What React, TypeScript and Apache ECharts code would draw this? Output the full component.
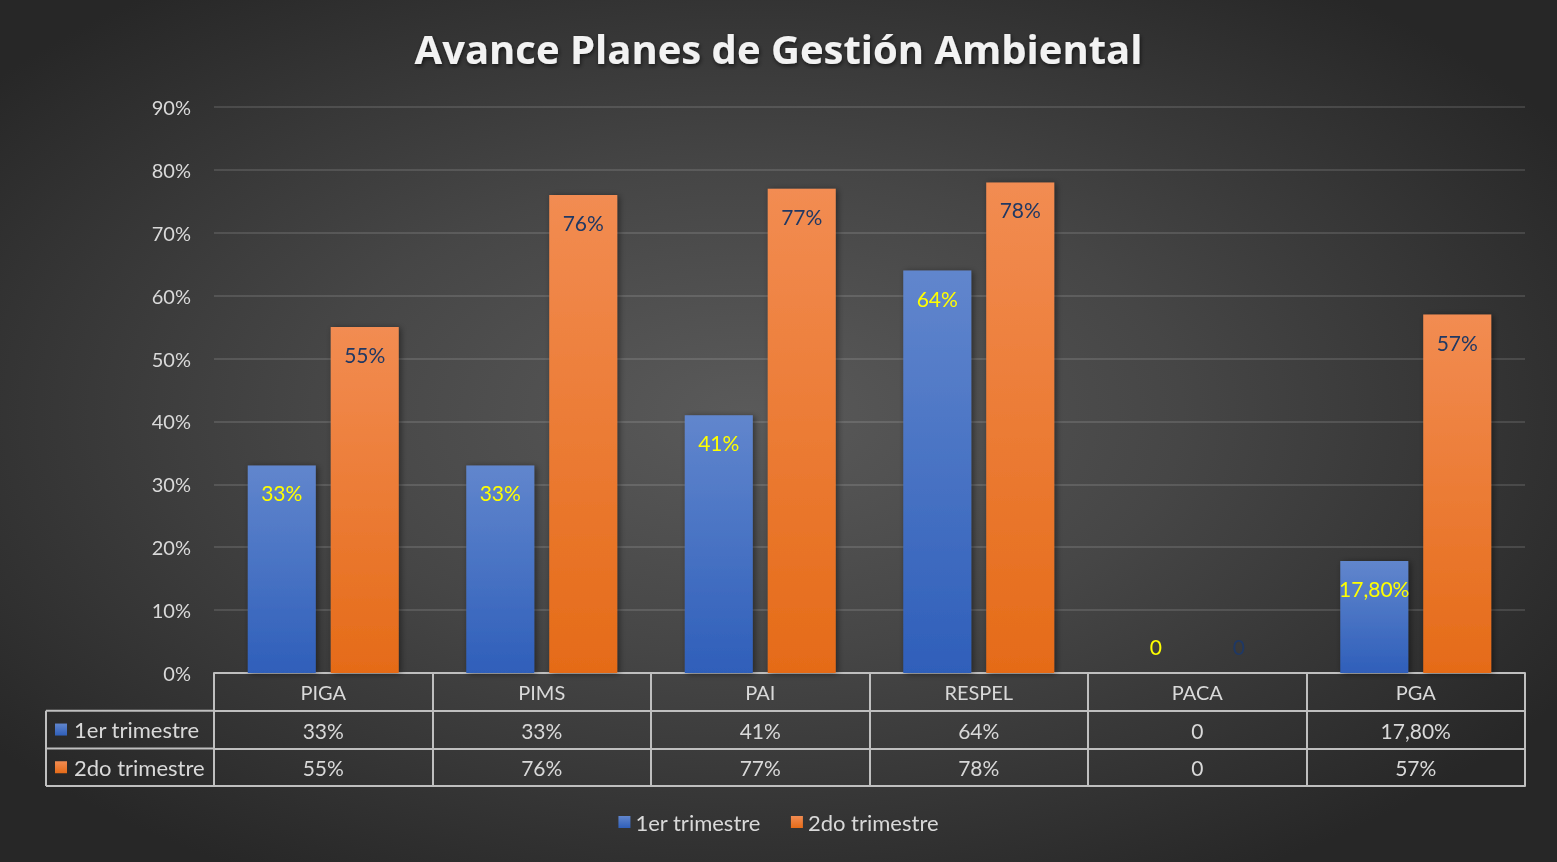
import React, { useEffect, useRef } from "react";
import * as echarts from "echarts";

const categories = ["PIGA", "PIMS", "PAI", "RESPEL", "PACA", "PGA"];
const seriesNames = ["1er trimestre", "2do trimestre"];
const firstQuarter = [33, 33, 41, 64, 0, 17.8];
const secondQuarter = [55, 76, 77, 78, 0, 57];
const yTicks = [0, 10, 20, 30, 40, 50, 60, 70, 80, 90];

const FONT = "Lato, 'Open Sans', sans-serif";
const TEXT = "#d9d9d9";
const LINE = "#bfbfbf";

const fmt = (v: number) => {
  if (v === 0) return "0";
  if (v % 1 !== 0) return v.toFixed(2).replace(".", ",") + "%";
  return v + "%";
};

const blueGrad = () =>
  new echarts.graphic.LinearGradient(0, 0, 0, 1, [
    { offset: 0, color: "#6186cd" },
    { offset: 1, color: "#2f5fba" },
  ]);
const orangeGrad = () =>
  new echarts.graphic.LinearGradient(0, 0, 0, 1, [
    { offset: 0, color: "#f28c52" },
    { offset: 1, color: "#e56b18" },
  ]);

export default function App() {
  const ref = useRef<HTMLDivElement>(null);
  useEffect(() => {
    if (!ref.current) return;
    const chart = echarts.init(ref.current, undefined, { renderer: "svg" });
    const gridLeft = 214;
    const gridRight = 32;
    const gridBottom = 189;
    const H = 862;
    const axisY = H - gridBottom;
    const rowH = 37.7;
    const tableLeft = 46;

    const tableAxis = (offset: number, labels: ((i: number) => string) | null, ticks: boolean, margin: number, size: number) => ({
      type: "category",
      data: categories,
      position: "bottom",
      offset,
      axisLine: { show: true, lineStyle: { color: LINE, width: 2 } },
      axisTick: { show: ticks, length: rowH, interval: 0, lineStyle: { color: LINE, width: 2 } },
      axisLabel: labels
        ? {
            show: true,
            interval: 0,
            margin,
            color: TEXT,
            fontSize: size,
            fontFamily: FONT,
            formatter: (_v: string, i: number) => labels(i),
          }
        : { show: false },
      splitLine: { show: false },
    });

    const mkData = (arr: number[]) =>
      arr.map((v) => (v === 0 ? { value: v, label: { position: "top", distance: 16 } } : v));

    const keyGraphic: any[] = [];
    [1, 2, 3].forEach((r) => {
      keyGraphic.push({
        type: "line",
        shape: { x1: tableLeft, y1: axisY + rowH * r, x2: gridLeft, y2: axisY + rowH * r },
        style: { stroke: LINE, lineWidth: 2 },
      });
    });
    keyGraphic.push({
      type: "line",
      shape: { x1: tableLeft, y1: axisY + rowH, x2: tableLeft, y2: axisY + rowH * 3 },
      style: { stroke: LINE, lineWidth: 2 },
    });
    seriesNames.forEach((name, i) => {
      const cy = axisY + rowH * (i + 1.5);
      keyGraphic.push({
        type: "rect",
        shape: { x: 55, y: cy - 6, width: 12, height: 12 },
        style: { fill: i === 0 ? blueGrad() : orangeGrad() },
      });
      keyGraphic.push({
        type: "text",
        x: 74,
        y: cy,
        style: {
          text: name,
          fill: TEXT,
          fontSize: 22,
          fontFamily: FONT,
          verticalAlign: "middle",
          align: "left",
        },
      });
    });

    chart.setOption({
      animation: false,
      backgroundColor: "transparent",
      title: {
        text: "Avance Planes de Gestión Ambiental",
        left: "center",
        top: 23,
        textStyle: {
          color: "#f2f2f2",
          fontSize: 40,
          fontWeight: "bold",
          fontFamily: "'Open Sans', Lato, sans-serif",
          textShadowColor: "rgba(0,0,0,0.6)",
          textShadowBlur: 4,
          textShadowOffsetX: 1,
          textShadowOffsetY: 2,
        },
      },
      legend: {
        data: seriesNames,
        bottom: 24,
        left: "center",
        icon: "rect",
        itemWidth: 12,
        itemHeight: 12,
        itemGap: 30,
        textStyle: { color: TEXT, fontSize: 22, fontFamily: FONT },
      },
      grid: { left: gridLeft, right: gridRight, top: 107, bottom: gridBottom, containLabel: false },
      xAxis: [
        tableAxis(0, (i) => categories[i], true, 9, 20),
        tableAxis(rowH, (i) => fmt(firstQuarter[i]), true, 9, 21),
        tableAxis(rowH * 2, (i) => fmt(secondQuarter[i]), true, 9, 21),
        tableAxis(rowH * 3, null, false, 0, 20),
      ],
      yAxis: {
        type: "value",
        min: yTicks[0],
        max: yTicks[yTicks.length - 1],
        interval: 10,
        axisLine: { show: false },
        axisTick: { show: false },
        axisLabel: { color: TEXT, fontSize: 20, fontFamily: FONT, margin: 23, formatter: "{value}%" },
        splitLine: { lineStyle: { color: "rgba(255,255,255,0.12)", width: 2 } },
      },
      series: [
        {
          name: seriesNames[0],
          type: "bar",
          xAxisIndex: 0,
          data: mkData(firstQuarter),
          barWidth: 68,
          barGap: "22%",
          itemStyle: {
            color: blueGrad(),
            shadowColor: "rgba(0,0,0,0.45)",
            shadowBlur: 6,
            shadowOffsetX: 2,
            shadowOffsetY: 1,
          },
          label: {
            show: true,
            position: "insideTop",
            distance: 17,
            color: "#ffff00",
            fontSize: 21,
            fontFamily: FONT,
            formatter: (p: any) => fmt(p.value),
          },
        },
        {
          name: seriesNames[1],
          type: "bar",
          xAxisIndex: 0,
          data: mkData(secondQuarter),
          barWidth: 68,
          itemStyle: {
            color: orangeGrad(),
            shadowColor: "rgba(0,0,0,0.45)",
            shadowBlur: 6,
            shadowOffsetX: 2,
            shadowOffsetY: 1,
          },
          label: {
            show: true,
            position: "insideTop",
            distance: 17,
            color: "#1f3864",
            fontSize: 21,
            fontFamily: FONT,
            formatter: (p: any) => fmt(p.value),
          },
        },
      ],
      graphic: keyGraphic,
    });
    return () => chart.dispose();
  }, []);

  return (
    <div
      ref={ref}
      style={{
        position: "fixed",
        left: 0,
        top: 0,
        width: 1557,
        height: 862,
        background: "radial-gradient(ellipse 62% 62% at 48% 48%, #5a5a5a 0%, #464646 45%, #272727 100%)",
      }}
    />
  );
}
